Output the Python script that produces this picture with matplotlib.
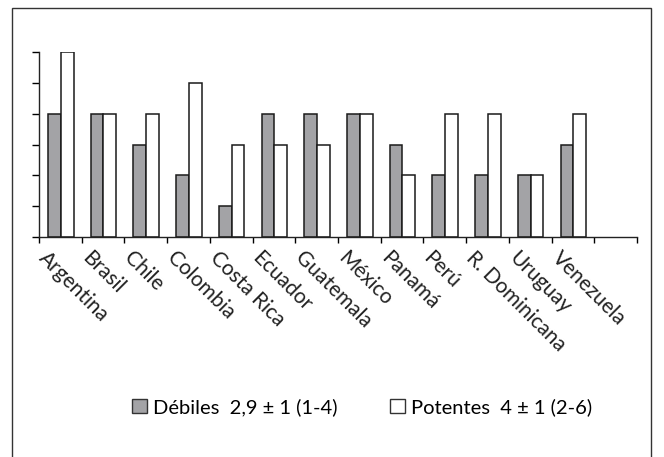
import numpy as np
import matplotlib
matplotlib.use("Agg")
import matplotlib.pyplot as plt
from matplotlib.patches import Rectangle, Patch

# data
paises = ["Argentina", "Brasil", "Chile", "Colombia", "Costa Rica", "Ecuador",
          "Guatemala", "México", "Panamá", "Perú", "R. Dominicana", "Uruguay",
          "Venezuela"]
debiles = [4, 4, 3, 2, 1, 4, 4, 4, 3, 2, 2, 2, 3]
potentes = [6, 4, 4, 5, 3, 3, 3, 4, 2, 4, 4, 2, 4]

plt.rcParams['font.family'] = ['Lato', 'DejaVu Sans']

fig = plt.figure(figsize=(6.64, 4.57), dpi=100)
# outer frame
fig.patches.append(Rectangle((12 / 664, -0.05), (651 - 12) / 664, 1.05 - 8 / 457,
                             transform=fig.transFigure, fill=False,
                             edgecolor="#333333", linewidth=1.0))

ax = fig.add_axes([39 / 664, 1 - 237 / 457, (637 - 39) / 664, (237 - 52) / 457])

x = np.arange(len(paises))
w = 0.30
ax.bar(x - w / 2 + 0.01, debiles, w, color="#a3a3a6", edgecolor="#1a1a1a", linewidth=1.1)
ax.bar(x + w / 2 + 0.01, potentes, w, color="white", edgecolor="#1a1a1a", linewidth=1.1)

ax.set_xlim(-0.5, 13.5)
ax.set_ylim(0, 6)
ax.set_yticks(range(7))
ax.set_yticklabels([])
ax.tick_params(axis="y", direction="out", length=5, width=1)
ax.set_xticks(np.arange(-0.5, 14, 1))
ax.set_xticklabels([])
ax.tick_params(axis="x", direction="out", length=4, width=1)

# rotated category labels
for i, p in enumerate(paises):
    ax.text(i - 0.26, -0.06, p, transform=ax.get_xaxis_transform(),
            rotation=-45, rotation_mode="anchor", ha="left", va="top",
            fontsize=15, color="#222222")

for s in ["top", "right"]:
    ax.spines[s].set_visible(False)
for s in ["left", "bottom"]:
    ax.spines[s].set_linewidth(1.0)
    ax.spines[s].set_color("#222222")

handles = [Patch(facecolor="#a3a3a6", edgecolor="#333333"),
           Patch(facecolor="white", edgecolor="#333333")]
fig.legend(handles, ["Débiles  2,9 ± 1 (1-4)", "Potentes  4 ± 1 (2-6)"],
           loc="center", bbox_to_anchor=(362 / 664, 1 - 407 / 457), ncol=2,
           frameon=False, fontsize=14.5, handlelength=0.75, handleheight=0.75,
           handletextpad=0.3, columnspacing=2.6)

fig.savefig("out.png", dpi=100)
